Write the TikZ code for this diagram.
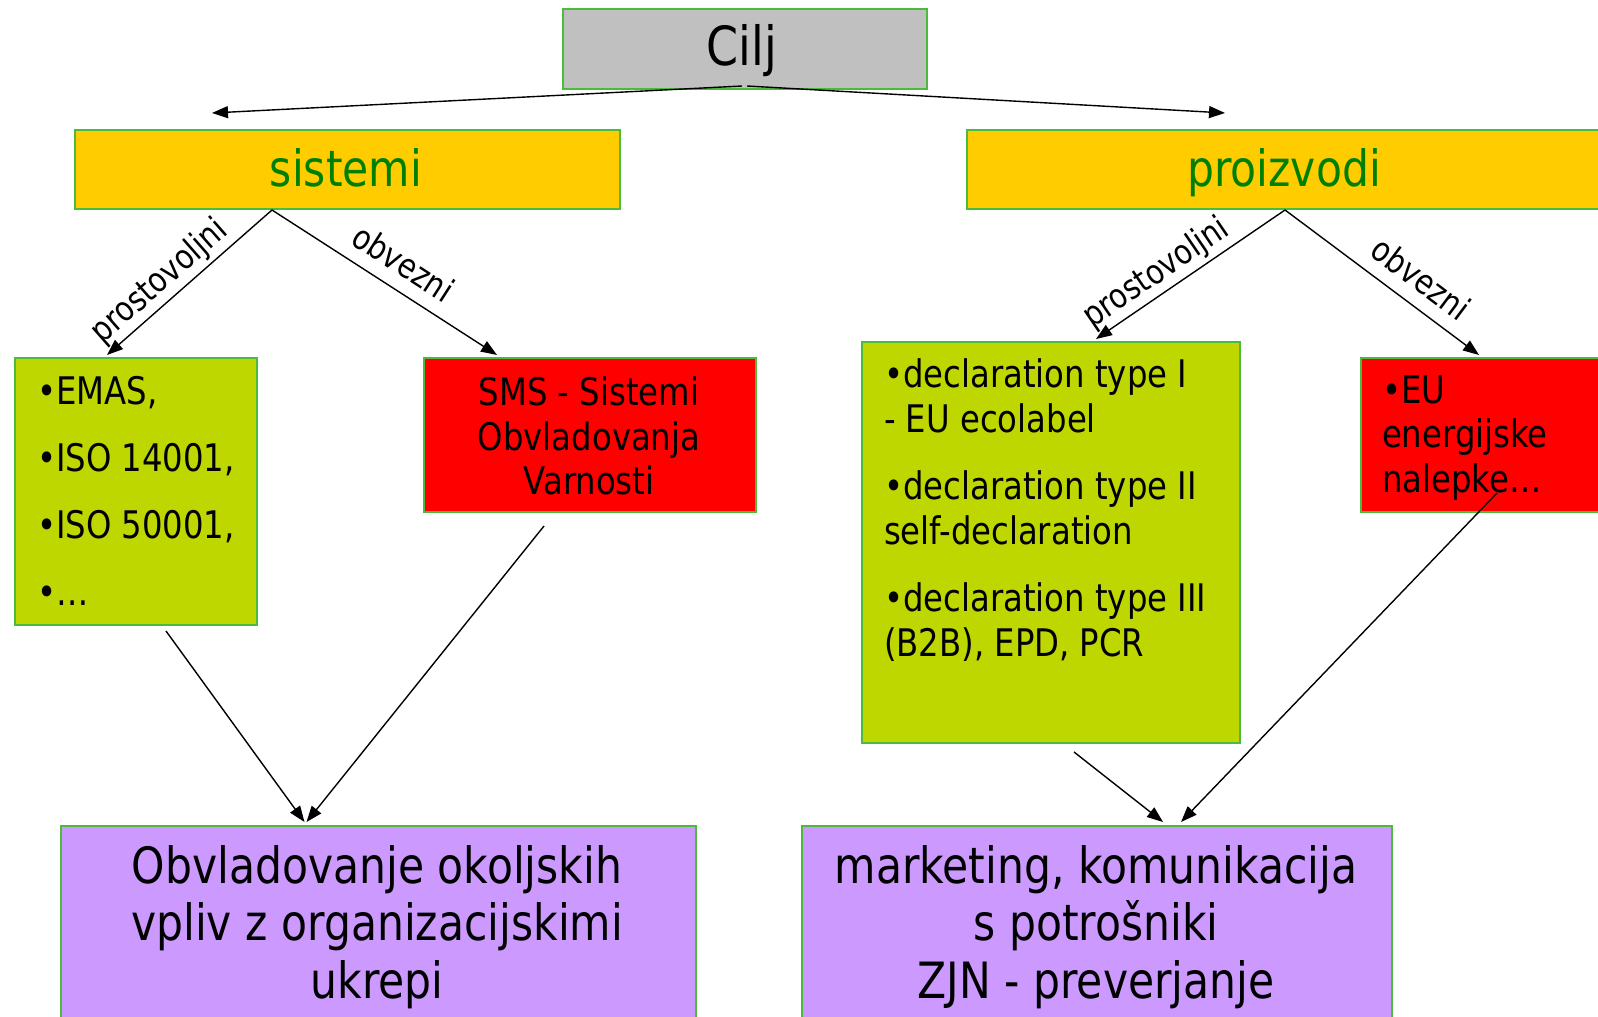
\documentclass[tikz,border=0pt]{standalone}
\usepackage{fontspec}
\setmainfont{DejaVu Sans}[FakeStretch=0.85]
\usetikzlibrary{arrows.meta}
\definecolor{boxline}{RGB}{76,187,60}
\definecolor{ciljgray}{RGB}{192,192,192}
\definecolor{yel}{RGB}{255,204,0}
\definecolor{limegr}{RGB}{191,215,0}
\definecolor{pur}{RGB}{204,153,255}
\definecolor{dgreen}{RGB}{0,128,0}
\begin{document}
\begin{tikzpicture}[x=0.5pt,y=-0.5pt,
  box/.style={draw=boxline,line width=1pt,anchor=north west,inner sep=0pt},
  arr/.style={-{Triangle[length=8pt,width=6pt]},line width=0.7pt},
  lbl/.style={sloped,above,inner sep=1.5pt,font=\fontsize{17}{20}\selectfont},
  big/.style={font=\fontsize{25}{28.8}\selectfont,align=center},
  mid/.style={font=\fontsize{19}{22.4}\selectfont}]
\useasboundingbox (0,0) rectangle (1598,1016);
% boxes
\node[box,fill=ciljgray,minimum width=182pt,minimum height=40pt] (cilj) at (562,8) {};
\node[box,fill=yel,minimum width=272.5pt,minimum height=39.5pt] (sist) at (74,129) {};
\node[box,fill=yel,minimum width=318pt,minimum height=39.5pt] (proiz) at (966,129) {};
\node[box,fill=limegr,minimum width=121pt,minimum height=133.5pt] (lg) at (14,357) {};
\node[box,fill=red,minimum width=166pt,minimum height=77pt] (sms) at (423,357) {};
\node[box,fill=limegr,minimum width=189pt,minimum height=200.5pt] (rg) at (861,341) {};
\node[box,fill=red,minimum width=122.5pt,minimum height=77pt] (eu) at (1360,357) {};
\node[box,fill=pur,minimum width=317.5pt,minimum height=105pt] (pl) at (60,825) {};
\node[box,fill=pur,minimum width=295pt,minimum height=105pt] (pr) at (801,825) {};
% texts
\node[font=\fontsize{27}{30}\selectfont] (ciljt) at (742,51) {Cilj};
\node[font=\fontsize{25}{28}\selectfont,text=dgreen,anchor=base] (sistt) at (346,187) {sistemi};
\node[font=\fontsize{25}{28}\selectfont,text=dgreen,anchor=base] (proizt) at (1284,187) {proizvodi};
\node[anchor=west,align=left,font=\fontsize{19}{33.5}\selectfont] (lgt) at (30,491)
  {•EMAS,\\•ISO 14001,\\•ISO 50001,\\•…};
\node[mid,align=center] (smst) at (589,436) {SMS - Sistemi\\Obvladovanja\\Varnosti};
\node[mid,anchor=west,align=left] (rgt) at (877,510)
  {•declaration type I\\- EU ecolabel\\[11.2pt]•declaration type II\\self-declaration\\[11.2pt]•declaration type III\\(B2B), EPD, PCR};
\node[mid,anchor=west,align=left] (eut) at (1375,438) {•EU\\energijske\\nalepke…};
\node[big] (plt) at (377,927) {Obvladovanje okoljskih\\vpliv z organizacijskimi\\ukrepi};
\node[big] (prt) at (1096,927) {marketing, komunikacija\\s potrošniki\\ZJN - preverjanje};
% connectors
\coordinate (cl) at (212,113);
\coordinate (cr) at (1225,113);
\draw[arr] ([xshift=-1.5pt,yshift=2pt]cilj.south) -- (cl);
\draw[arr] ([xshift=1pt,yshift=2pt]cilj.south) -- (cr);
\draw[arr] ([xshift=-37.75pt]sist.south) -- node[lbl,pos=0.6]{prostovoljni} ([xshift=-14.5pt,yshift=1pt]lg.north);
\draw[arr] ([xshift=-37.75pt]sist.south) -- node[lbl,pos=0.52,yshift=5pt]{obvezni} ([xshift=-46.5pt,yshift=1pt]sms.north);
\draw[arr] (proiz.south) -- node[lbl,pos=0.62]{prostovoljni} ([xshift=22.5pt,yshift=1pt]rg.north);
\draw[arr] (proiz.south) -- node[lbl,pos=0.62,yshift=5pt]{obvezni} ([xshift=-2.25pt,yshift=1pt]eu.north);
\draw[arr] ([xshift=15pt,yshift=-2.5pt]lg.south) -- ([xshift=-37pt,yshift=1.5pt]pl.north);
\draw[arr] ([xshift=-23pt,yshift=-6.5pt]sms.south) -- ([xshift=-36pt,yshift=1.5pt]pl.north);
\draw[arr] ([xshift=11.5pt,yshift=-4pt]rg.south) -- ([xshift=33pt,yshift=1.5pt]pr.north);
\draw[arr] ([xshift=6.75pt,yshift=10pt]eu.south) -- ([xshift=42pt,yshift=1.5pt]pr.north);
\end{tikzpicture}
\end{document}
